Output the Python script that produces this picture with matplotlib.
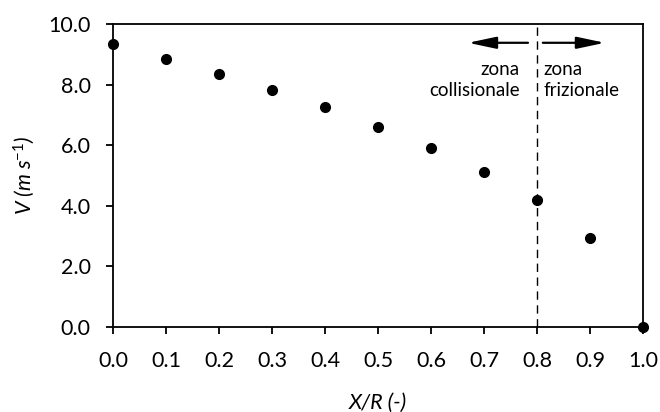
import matplotlib.pyplot as plt

# dati
xr = [0.0, 0.1, 0.2, 0.3, 0.4, 0.5, 0.6, 0.7, 0.8, 0.9, 1.0]
vel = [9.33, 8.84, 8.35, 7.82, 7.26, 6.60, 5.90, 5.10, 4.19, 2.95, 0.0]
xticks = [0.0, 0.1, 0.2, 0.3, 0.4, 0.5, 0.6, 0.7, 0.8, 0.9, 1.0]
yticks = [0.0, 2.0, 4.0, 6.0, 8.0, 10.0]
x_soglia = 0.8

plt.rcParams['font.family'] = ['Lato', 'DejaVu Sans']
plt.rcParams['mathtext.fontset'] = 'custom'
plt.rcParams['mathtext.it'] = 'Lato:italic'
plt.rcParams['mathtext.rm'] = 'Lato'
fs = 15.5

fig = plt.figure(figsize=(6.6, 4.12), dpi=100)
ax = fig.add_axes([113/660, 1 - 327/412, 530/660, 303/412])

ax.plot(xr, vel, 'o', color='black', markersize=7, clip_on=False, zorder=5)
ax.axvline(x_soglia, color='black', linestyle=(0, (6, 4)), linewidth=1)

ax.set_xlim(0, 1)
ax.set_ylim(0, 10)
ax.set_xticks(xticks)
ax.set_xticklabels(['%.1f' % t for t in xticks])
ax.set_yticks(yticks)
ax.set_yticklabels(['%.1f' % t for t in yticks])
ax.tick_params(axis='both', direction='out', length=5, width=1.3, labelsize=fs)
ax.tick_params(axis='y', pad=11)
ax.tick_params(axis='x', pad=12)
for s in ax.spines.values():
    s.set_linewidth(1.3)

ax.set_xlabel('X/R (-)', fontsize=fs, style='italic', labelpad=16)
ax.set_ylabel(r'V (m s$^{\mathit{-1}}$)', fontsize=fs, style='italic', labelpad=8)

# frecce e testi delle zone
stile = '-|>,head_length=0.85,head_width=0.18'
ax.annotate('', xy=(0.670, 9.38), xytext=(0.783, 9.38),
            arrowprops=dict(arrowstyle=stile, color='black', lw=1.6, mutation_scale=20, shrinkA=0, shrinkB=0))
ax.annotate('', xy=(0.928, 9.38), xytext=(0.811, 9.38),
            arrowprops=dict(arrowstyle=stile, color='black', lw=1.6, mutation_scale=20, shrinkA=0, shrinkB=0))
ax.text(0.768, 8.15, 'zona\ncollisionale', ha='right', va='center', fontsize=13.5, linespacing=1.3)
ax.text(0.813, 8.15, 'zona\nfrizionale', ha='left', va='center', fontsize=13.5, linespacing=1.3)

fig.savefig('out.png', dpi=100)
